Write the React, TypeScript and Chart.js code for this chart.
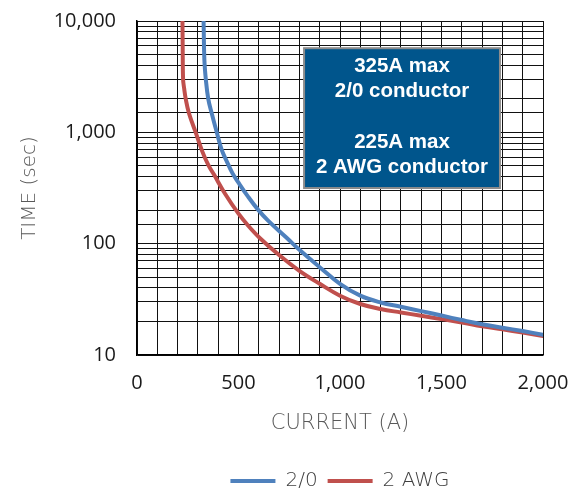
import React, { useEffect, useRef } from 'react';
import { Chart, registerables } from 'chart.js';

Chart.register(...registerables);

// ---- data ----
const seriesNames = ['2/0', '2 AWG'];
const seriesColors = ['#4f81bd', '#c0504d'];

const current2_0 = [328, 332, 339, 351, 368, 393, 417, 440, 470, 499, 548, 598, 647, 737, 800, 900, 1000, 1100, 1200, 1300, 1400, 1500, 1600, 1700, 1800, 1900, 2000];
const time2_0 = [10000, 4450, 3000, 2000, 1485, 1000, 700, 560, 430, 355, 263, 200, 160, 113, 88, 61.5, 43.6, 34.1, 29.6, 27.1, 24.8, 22.6, 20.6, 18.9, 17.6, 16.4, 15.2];

const current2awg = [224, 225, 227, 232, 240, 256, 289, 322, 351, 380, 433, 499, 548, 606, 700, 800, 900, 1000, 1100, 1200, 1300, 1400, 1500, 1600, 1700, 1800, 1900, 2000];
const time2awg = [10000, 6000, 3000, 2500, 2000, 1485, 1000, 671, 510, 415, 282, 187, 145, 112, 79, 57, 43.6, 34.1, 28.7, 25.9, 24.1, 22.5, 21, 19.6, 18.1, 17, 15.9, 14.8];

const xLabelValues = [0, 500, 1000, 1500, 2000];
const yLabelValues = [10, 100, 1000, 10000];

const noteLines = ['325A max', '2/0 conductor', '', '225A max', '2 AWG conductor'];

const xTitle = 'CURRENT (A)';
const yTitle = 'TIME (sec)';

const toPoints = (xs: number[], ys: number[]) => xs.map((x, i) => ({ x, y: ys[i] }));

const lightFont = '"DejaVu Sans", "Open Sans", sans-serif';

const notePlugin = {
  id: 'noteBox',
  afterDatasetsDraw(chart: any) {
    const { ctx, scales } = chart;
    const x = scales.x;
    const y = scales.y;
    const l = x.getPixelForValue(823);
    const r = x.getPixelForValue(1788);
    const t = y.getPixelForValue(5700);
    const b = y.getPixelForValue(316);
    ctx.save();
    ctx.fillStyle = '#00558c';
    ctx.fillRect(l, t, r - l, b - t);
    ctx.strokeStyle = '#8c8c8c';
    ctx.lineWidth = 2;
    ctx.strokeRect(l, t, r - l, b - t);
    ctx.fillStyle = '#ffffff';
    ctx.font = 'bold 20.5px "Liberation Sans", Arial, sans-serif';
    ctx.textAlign = 'center';
    ctx.textBaseline = 'middle';
    const cx = (l + r) / 2;
    const cy = (t + b) / 2 - 1.5;
    const lh = 25.3;
    const n = noteLines.length;
    noteLines.forEach((s, i) => {
      if (s) ctx.fillText(s, cx, cy + (i - (n - 1) / 2) * lh);
    });
    ctx.restore();
  },
};

export default function App() {
  const ref = useRef<HTMLCanvasElement>(null);

  useEffect(() => {
    document.body.style.margin = '0';
    const canvas = ref.current!;
    const chart = new Chart(canvas, {
      type: 'line',
      data: {
        datasets: [
          {
            label: seriesNames[0],
            data: toPoints(current2_0, time2_0),
            borderColor: seriesColors[0],
            backgroundColor: seriesColors[0],
            borderWidth: 4,
            pointRadius: 0,
            borderCapStyle: 'round',
            tension: 0.4,
            fill: false,
          },
          {
            label: seriesNames[1],
            data: toPoints(current2awg, time2awg),
            borderColor: seriesColors[1],
            backgroundColor: seriesColors[1],
            borderWidth: 4,
            pointRadius: 0,
            borderCapStyle: 'round',
            tension: 0.4,
            fill: false,
          },
        ],
      },
      options: {
        animation: false,
        responsive: false,
        maintainAspectRatio: false,
        layout: { padding: { left: 0, right: 43, top: 21, bottom: -12 } },
        plugins: {
          tooltip: { enabled: false },
          legend: {
            position: 'bottom',
            fullSize: false,
            labels: {
              usePointStyle: true,
              pointStyle: 'line',
              pointStyleWidth: 45,
              padding: 10,
              color: '#404040',
              font: { family: lightFont, size: 20, weight: '200' },
            },
          },
        },
        scales: {
          x: {
            type: 'linear',
            min: 0,
            max: 2000,
            afterFit(s: any) {
              s.height = 106;
            },
            ticks: {
              stepSize: 100,
              autoSkip: false,
              maxRotation: 0,
              padding: 0,
              color: '#1a1a1a',
              font: { family: '"Open Sans", sans-serif', size: 20 },
              callback: (v: any) => (xLabelValues.includes(Number(v)) ? Number(v).toLocaleString('en-US') : ''),
            },
            grid: { color: '#111', lineWidth: 1, drawTicks: true, tickLength: 16, tickColor: 'rgba(0,0,0,0)' },
            border: { color: '#000', width: 1.5 },
            title: {
              display: true,
              text: xTitle,
              color: '#595959',
              font: { family: lightFont, size: 21, weight: '200' },
              padding: { top: 0, bottom: 25 },
            },
          },
          y: {
            type: 'logarithmic',
            min: 10,
            max: 10000,
            afterFit(s: any) {
              s.width = 137;
            },
            ticks: {
              autoSkip: false,
              padding: 0,
              color: '#1a1a1a',
              font: { family: '"Open Sans", sans-serif', size: 20 },
              callback: (v: any) => (yLabelValues.includes(Number(v)) ? Number(v).toLocaleString('en-US') : ''),
            },
            grid: { color: '#111', lineWidth: 1, drawTicks: true, tickLength: 21, tickColor: 'rgba(0,0,0,0)' },
            border: { color: '#000', width: 1.5 },
            title: {
              display: true,
              text: yTitle,
              color: '#595959',
              font: { family: lightFont, size: 20, weight: '200' },
              padding: { top: 18, bottom: 0 },
            },
          },
        },
      },
      plugins: [notePlugin],
    } as any);
    return () => chart.destroy();
  }, []);

  return (
    <div style={{ width: 586, height: 489 }}>
      <canvas ref={ref} width={586} height={489} />
    </div>
  );
}
